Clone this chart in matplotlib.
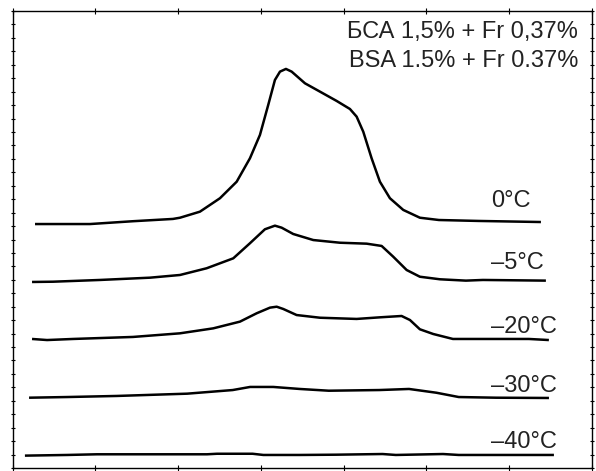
import numpy as np
import matplotlib
matplotlib.use("Agg")
from matplotlib import pyplot as plt
from matplotlib.ticker import MultipleLocator, NullFormatter

plt.rcParams['font.family'] = ['Liberation Sans', 'DejaVu Sans']

# traces (arbitrary units, x 0..7, y 0..34)
x_0 = [0.272, 0.936, 1.455, 1.938, 2.023, 2.264, 2.506, 2.708, 2.868, 2.989, 3.089, 3.170, 3.231, 3.303,
       3.372, 3.533, 3.714, 3.915, 4.076, 4.157, 4.237, 4.338, 4.438, 4.559, 4.720, 4.921, 5.151, 5.634, 6.383]
y_0 = [18.15, 18.15, 18.36, 18.53, 18.62, 19.07, 20.07, 21.30, 23.04, 24.78, 27.01, 28.87, 29.49, 29.69,
       29.49, 28.62, 28.00, 27.31, 26.71, 26.14, 25.02, 23.04, 21.30, 20.07, 19.20, 18.62, 18.45, 18.38, 18.30]

x_5 = [0.236, 0.489, 1.057, 1.661, 2.023, 2.345, 2.667, 2.868, 3.049, 3.170, 3.251, 3.391, 3.633, 3.955,
       4.278, 4.459, 4.599, 4.761, 4.921, 5.163, 5.477, 5.682, 6.443]
y_5 = [13.84, 13.86, 13.99, 14.16, 14.36, 14.86, 15.60, 16.72, 17.76, 18.03, 17.88, 17.41, 16.96, 16.76,
       16.69, 16.52, 15.72, 14.73, 14.23, 14.04, 13.94, 13.99, 13.94]

x_20 = [0.236, 0.417, 0.731, 1.455, 2.023, 2.425, 2.748, 2.949, 3.110, 3.191, 3.271, 3.432, 3.714, 4.157,
        4.438, 4.700, 4.801, 4.921, 5.082, 5.320, 5.839, 6.238, 6.479]
y_20 = [9.60, 9.52, 9.60, 9.75, 10.02, 10.39, 10.89, 11.51, 11.93, 12.00, 11.83, 11.38, 11.18, 11.09,
        11.21, 11.31, 11.01, 10.32, 9.97, 9.60, 9.60, 9.60, 9.52]

x_30 = [0.20, 0.66, 1.26, 2.11, 2.66, 2.87, 3.15, 3.47, 3.82, 4.43, 4.79, 5.12, 5.39, 5.84, 6.48]
y_30 = [5.23, 5.28, 5.36, 5.53, 5.80, 6.03, 6.03, 5.88, 5.75, 5.80, 5.88, 5.60, 5.28, 5.23, 5.21]

x_40 = [0.15, 0.66, 1.02, 2.35, 2.47, 2.90, 3.03, 3.47, 3.91, 4.47, 4.63, 5.20, 5.39, 6.54]
y_40 = [0.92, 0.97, 1.02, 1.02, 1.06, 1.06, 0.97, 0.97, 0.99, 1.04, 0.97, 1.04, 0.97, 0.97]

labels = ["0°C", "–5°C", "–20°C", "–30°C", "–40°C"]
label_x = [6.26, 6.42, 6.58, 6.58, 6.58]
label_y = [19.44, 14.81, 10.07, 5.68, 1.47]
title_lines = ["БСА 1,5% + Fr 0,37%", "BSA 1.5% + Fr 0.37%"]
title_y = [31.97, 29.86]

fig = plt.figure(figsize=(5.96, 4.71), dpi=100)
ax = fig.add_axes([12.5 / 596, 3 / 471, 579.5 / 596, 457 / 471])

for xs, ys in [(x_0, y_0), (x_5, y_5), (x_20, y_20), (x_30, y_30), (x_40, y_40)]:
    ax.plot(xs, ys, color="black", lw=1.8, solid_capstyle="butt", solid_joinstyle="round")

for lab, lx, ly in zip(labels, label_x, label_y):
    ax.text(lx, ly, lab, ha="right", va="baseline", fontsize=17, color="#222222")

for line, ty in zip(title_lines, title_y):
    ax.text(6.83, ty, line, ha="right", va="baseline", fontsize=17, color="#222222")

ax.set_xlim(0, 7)
ax.set_ylim(0, 34)
ax.xaxis.set_major_locator(MultipleLocator(1))
ax.yaxis.set_major_locator(MultipleLocator(1))
ax.xaxis.set_major_formatter(NullFormatter())
ax.yaxis.set_major_formatter(NullFormatter())
ax.tick_params(axis="x", which="both", top=True, bottom=True, direction="inout", length=4, width=0.8)
ax.tick_params(axis="y", which="both", left=True, right=True, direction="inout", length=3, width=0.8)
for s in ax.spines.values():
    s.set_linewidth(1.0)

fig.savefig("out.png", dpi=100)
